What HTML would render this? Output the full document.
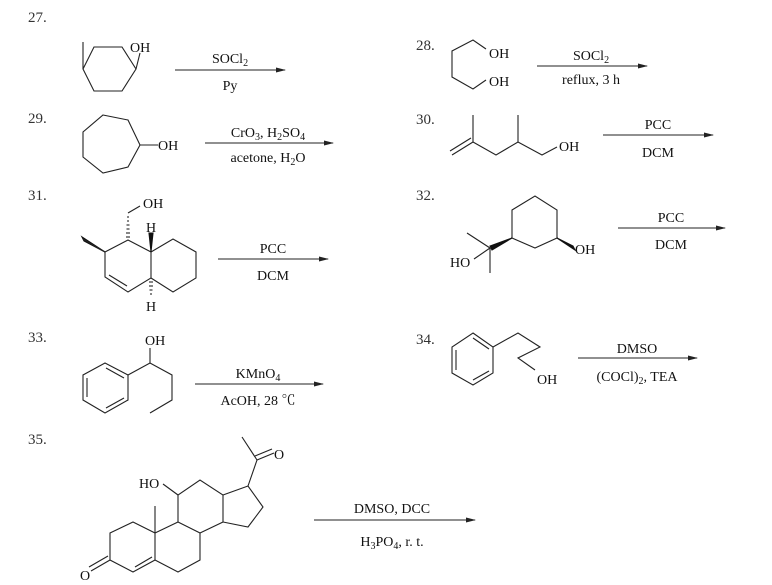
<!DOCTYPE html>
<html><head><meta charset="utf-8"><style>
html,body{margin:0;padding:0;background:#fff;}
svg{display:block;}
text{font-family:"Liberation Serif","Noto Serif CJK SC",serif;font-size:14px;fill:#111;}
.n{font-size:15px;fill:#333;}
line,polyline,polygon{stroke:#222;stroke-width:1.1;fill:none;}
.w{fill:#111;stroke:#111;}
.h{stroke:#222;stroke-width:1;}
</style></head><body>
<svg width="772" height="585" viewBox="0 0 772 585" xmlns="http://www.w3.org/2000/svg">
<defs><marker id="a" markerWidth="10" markerHeight="6" refX="9" refY="3" orient="auto" markerUnits="userSpaceOnUse"><path d="M0,0.5 L10,3 L0,5.5 z" fill="#222"/></marker></defs>

<!-- 27 -->
<text class="n" x="28" y="22">27.</text>
<polygon points="94,47 122,47 136,69 122,91 94,91 83,69"/>
<line x1="83" y1="69" x2="83" y2="42"/>
<line x1="136" y1="69" x2="140" y2="53"/>
<text x="130" y="52">OH</text>
<line x1="175" y1="70" x2="285" y2="70" marker-end="url(#a)"/>
<text x="230" y="63" text-anchor="middle">SOCl<tspan font-size="10" dy="3">2</tspan></text>
<text x="230" y="90" text-anchor="middle">Py</text>

<!-- 29 -->
<text class="n" x="28" y="123">29.</text>
<polygon points="103,115 128,120 140,145 128,167 103,173 83,157 83,132"/>
<line x1="140" y1="145" x2="158" y2="145"/>
<text x="158" y="150">OH</text>
<line x1="205" y1="143" x2="333" y2="143" marker-end="url(#a)"/>
<text x="268" y="137" text-anchor="middle">CrO<tspan font-size="10" dy="3">3</tspan><tspan dy="-3">, H</tspan><tspan font-size="10" dy="3">2</tspan><tspan dy="-3">SO</tspan><tspan font-size="10" dy="3">4</tspan></text>
<text x="268" y="162" text-anchor="middle">acetone, H<tspan font-size="10" dy="3">2</tspan><tspan dy="-3">O</tspan></text>

<!-- 28 -->
<text class="n" x="416" y="50">28.</text>
<polyline points="486,49 473,40 452,51 452,77 473,89 486,80"/>
<text x="489" y="58">OH</text>
<text x="489" y="86">OH</text>
<line x1="537" y1="66" x2="647" y2="66" marker-end="url(#a)"/>
<text x="591" y="60" text-anchor="middle">SOCl<tspan font-size="10" dy="3">2</tspan></text>
<text x="591" y="84" text-anchor="middle">reflux, 3 h</text>

<!-- 30 -->
<text class="n" x="416" y="124">30.</text>
<line x1="473" y1="115" x2="473" y2="142"/>
<line x1="473" y1="142" x2="452" y2="155"/>
<line x1="471" y1="138" x2="450" y2="151"/>
<polyline points="473,142 496,155 518,142 542,155 557,147"/>
<line x1="518" y1="142" x2="518" y2="115"/>
<text x="559" y="151">OH</text>
<line x1="603" y1="135" x2="713" y2="135" marker-end="url(#a)"/>
<text x="658" y="129" text-anchor="middle">PCC</text>
<text x="658" y="157" text-anchor="middle">DCM</text>

<!-- 31 -->
<text class="n" x="28" y="200">31.</text>
<polygon points="128,240 151,252 151,278 128,292 105,277 105,252"/>
<line x1="109" y1="275" x2="127" y2="286"/>
<polyline points="151,252 173,239 196,252 196,278 173,292 151,278"/>
<polygon class="w" points="105,252 82,237 84,241"/>
<line x1="105" y1="252" x2="83" y2="239" stroke-width="3.5"/>
<g class="h">
<line x1="126" y1="237" x2="130" y2="237"/><line x1="126" y1="233" x2="130" y2="233"/><line x1="126.5" y1="229" x2="129.5" y2="229"/><line x1="126.5" y1="225" x2="129.5" y2="225"/><line x1="127" y1="221" x2="129" y2="221"/><line x1="127" y1="217" x2="129" y2="217"/>
<line x1="149" y1="282" x2="153" y2="282"/><line x1="149" y1="286" x2="153" y2="286"/><line x1="149.5" y1="290" x2="152.5" y2="290"/><line x1="150" y1="294" x2="152" y2="294"/>
</g>
<line x1="128" y1="213" x2="140" y2="206"/>
<text x="143" y="208">OH</text>
<polygon class="w" points="151,252 149,233 153,233"/>
<text x="146" y="232">H</text>
<text x="146" y="311">H</text>
<line x1="218" y1="259" x2="328" y2="259" marker-end="url(#a)"/>
<text x="273" y="253" text-anchor="middle">PCC</text>
<text x="273" y="280" text-anchor="middle">DCM</text>

<!-- 32 -->
<text class="n" x="416" y="200">32.</text>
<polygon points="512,210 535,196 557,210 557,238 535,248 512,238"/>
<polygon class="w" points="512,238 490,246 492,250"/>
<line x1="490" y1="248" x2="467" y2="233"/>
<line x1="490" y1="248" x2="490" y2="273"/>
<line x1="490" y1="248" x2="474" y2="259"/>
<text x="450" y="267">HO</text>
<polygon class="w" points="557,238 573,246 575,250"/>
<text x="575" y="254">OH</text>
<line x1="618" y1="228" x2="725" y2="228" marker-end="url(#a)"/>
<text x="671" y="222" text-anchor="middle">PCC</text>
<text x="671" y="249" text-anchor="middle">DCM</text>

<!-- 33 -->
<text class="n" x="28" y="342">33.</text>
<polygon points="105,363 128,375 128,400 105,413 83,400 83,375"/>
<line x1="106" y1="368" x2="124" y2="378"/>
<line x1="87" y1="378" x2="87" y2="397"/>
<line x1="106" y1="408" x2="124" y2="398"/>
<polyline points="128,375 150,363 172,375 172,400 150,413"/>
<line x1="150" y1="363" x2="150" y2="348"/>
<text x="145" y="345">OH</text>
<line x1="195" y1="384" x2="323" y2="384" marker-end="url(#a)"/>
<text x="258" y="378" text-anchor="middle">KMnO<tspan font-size="10" dy="3">4</tspan></text>
<text x="258" y="405" text-anchor="middle">AcOH, 28 ℃</text>

<!-- 34 -->
<text class="n" x="416" y="344">34.</text>
<polygon points="473,333 493,347 493,373 473,385 452,373 452,347"/>
<line x1="473" y1="338" x2="489" y2="349"/>
<line x1="456" y1="350" x2="456" y2="370"/>
<line x1="473" y1="380" x2="489" y2="371"/>
<polyline points="493,347 518,333 540,347 518,358 535,370"/>
<text x="537" y="384">OH</text>
<line x1="578" y1="358" x2="697" y2="358" marker-end="url(#a)"/>
<text x="637" y="353" text-anchor="middle">DMSO</text>
<text x="637" y="381" text-anchor="middle">(COCl)<tspan font-size="10" dy="3">2</tspan><tspan dy="-3">, TEA</tspan></text>

<!-- 35 -->
<text class="n" x="28" y="444">35.</text>
<polygon points="110,533 133,522 155,533 155,560 133,572 110,560"/>
<line x1="135" y1="567" x2="152" y2="557"/>
<line x1="110" y1="560" x2="91" y2="571"/>
<line x1="108" y1="556" x2="89" y2="567"/>
<text x="80" y="580">O</text>
<line x1="155" y1="533" x2="155" y2="506"/>
<polyline points="155,533 178,522 200,533 200,560 178,572 155,560"/>
<polyline points="178,522 178,495 200,480 223,495 223,522 200,533"/>
<line x1="178" y1="495" x2="163" y2="484"/>
<text x="139" y="488">HO</text>
<polyline points="223,495 248,486 263,507 248,527 223,522"/>
<line x1="248" y1="486" x2="257" y2="460"/>
<line x1="257" y1="460" x2="242" y2="437"/>
<line x1="257" y1="460" x2="274" y2="453"/>
<line x1="255" y1="456" x2="272" y2="449"/>
<text x="274" y="459">O</text>
<line x1="314" y1="520" x2="475" y2="520" marker-end="url(#a)"/>
<text x="392" y="513" text-anchor="middle">DMSO, DCC</text>
<text x="392" y="546" text-anchor="middle">H<tspan font-size="10" dy="3">3</tspan><tspan dy="-3">PO</tspan><tspan font-size="10" dy="3">4</tspan><tspan dy="-3">, r. t.</tspan></text>
</svg>
</body></html>
